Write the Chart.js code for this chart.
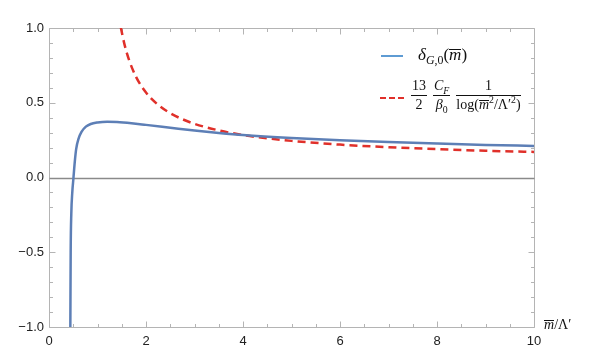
<!DOCTYPE html>
<html lang="en">
<head>
<meta charset="UTF-8">
<title>delta G,0</title>
<script src="https://cdn.jsdelivr.net/npm/chart.js@4/dist/chart.umd.min.js"></script>
<style>
  body { margin:0; background:#fff; }
  #wrap { position:relative; width:599px; height:356px; }
  .tex { position:absolute; font-family:"Liberation Serif","DejaVu Serif",serif; color:#111; white-space:nowrap; line-height:1; }
  .frac { display:inline-flex; flex-direction:column; align-items:center; vertical-align:middle; margin-right:6px; }
  .frac .num { border-bottom:1px solid #111; padding:0 1px 2px 1px; text-align:center; align-self:stretch; }
  .frac .den { padding-top:2px; }
  .ol { display:inline-block; border-top:1px solid #111; line-height:0.62em; }
  sub, sup { font-size:70%; line-height:0; }
  .sw { position:absolute; height:2px; }
</style>
</head>
<body>
<div id="wrap">
  <canvas id="myChart" width="599" height="356"></canvas>

  <div class="sw" style="left:381px; top:55px; width:22px; background:#5e9bd3;"></div>
  <div class="tex" style="left:418px; top:46px; font-size:17px;"><i>δ</i><sub><i>G</i>,0</sub>(<i class="ol">m</i>)</div>

  <div class="sw" style="left:380px; top:97px; width:24px; background:repeating-linear-gradient(to right,#e0302a 0 6px,transparent 6px 9px);"></div>
  <div class="tex" style="left:411px; top:79px; font-size:14px;">
    <span class="frac"><span class="num">13</span><span class="den">2</span></span><span class="frac"><span class="num"><i>C</i><sub><i>F</i></sub></span><span class="den"><i>β</i><sub>0</sub></span></span><span class="frac"><span class="num">1</span><span class="den">log(<i class="ol">m</i><sup>2</sup>/Λ′<sup>2</sup>)</span></span>
  </div>

  <div class="tex" style="left:544px; top:318px; font-size:14px;"><i class="ol">m</i>/Λ′</div>
</div>
<script>
  // blue curve
  var blueX = [0.44, 0.447, 0.46, 0.48, 0.505, 0.53, 0.56, 0.61, 0.67, 0.76, 0.86, 1.0, 1.2, 1.4, 1.7, 2.0, 2.5, 3.0, 3.5, 4.0, 5.0, 6.0, 7.0, 8.0, 9.0, 10.0];
  var blueY = [-1.0, -0.5, -0.24, -0.1, 0.0, 0.1, 0.19, 0.26, 0.305, 0.34, 0.358, 0.368, 0.373, 0.371, 0.363, 0.352, 0.333, 0.314, 0.298, 0.284, 0.264, 0.249, 0.237, 0.227, 0.218, 0.211];

  // red dashed curve
  var redX = [1.48, 1.55, 1.65, 1.8, 2.0, 2.25, 2.5, 2.75, 3.0, 3.5, 4.0, 4.5, 5.0, 6.0, 7.0, 8.0, 9.0, 10.0];
  var redY = [1.005, 0.899, 0.787, 0.670, 0.568, 0.486, 0.430, 0.390, 0.359, 0.315, 0.284, 0.262, 0.245, 0.220, 0.203, 0.190, 0.179, 0.171];

  var xTicks = [0, 2, 4, 6, 8, 10];
  var yTicks = [-1.0, -0.5, 0.0, 0.5, 1.0];

  function pts(xs, ys) {
    return xs.map(function (v, i) { return { x: v, y: ys[i] }; });
  }

  // frame with inward ticks, plus the zero line (Mathematica style)
  var frame = {
    id: 'frame',
    beforeDatasetsDraw: function (chart) {
      var ctx = chart.ctx, a = chart.chartArea, sx = chart.scales.x, sy = chart.scales.y;
      var L = Math.round(a.left) + 0.5, R = Math.round(a.right) + 0.5;
      var T = Math.round(a.top) + 0.5, B = Math.round(a.bottom) + 0.5;
      ctx.save();
      ctx.lineWidth = 1;
      ctx.strokeStyle = '#b4b4b4';
      ctx.beginPath();
      ctx.moveTo(L, T); ctx.lineTo(R, T); ctx.lineTo(R, B); ctx.lineTo(L, B); ctx.closePath();
      ctx.stroke();

      ctx.beginPath();
      for (var v = 0; v <= 10.001; v += 0.5) {
        var px = Math.round(sx.getPixelForValue(v)) + 0.5;
        var len = (Math.abs(v % 2) < 1e-6) ? 6 : 3.5;
        ctx.moveTo(px, B); ctx.lineTo(px, B - len);
        ctx.moveTo(px, T); ctx.lineTo(px, T + len);
      }
      for (var k = -10; k <= 10; k++) {
        var py = Math.round(sy.getPixelForValue(k / 10)) + 0.5;
        var l2 = (k % 5 === 0) ? 6 : 3.5;
        ctx.moveTo(L, py); ctx.lineTo(L + l2, py);
        ctx.moveTo(R, py); ctx.lineTo(R - l2, py);
      }
      ctx.stroke();

      var y0 = Math.round(sy.getPixelForValue(0)) + 0.5;
      ctx.strokeStyle = '#8a8a8a';
      ctx.lineWidth = 1.5;
      ctx.beginPath();
      ctx.moveTo(L, y0); ctx.lineTo(R, y0);
      ctx.stroke();
      ctx.restore();
    }
  };

  var ctx = document.getElementById('myChart').getContext('2d');
  var chart = new Chart(ctx, {
    type: 'line',
    data: {
      datasets: [{
        label: 'delta',
        data: pts(blueX, blueY),
        borderColor: '#5d7fb6',
        borderWidth: 2.5,
        pointRadius: 0,
        cubicInterpolationMode: 'monotone',
        fill: false
      }, {
        label: 'asym',
        data: pts(redX, redY),
        borderColor: '#e0302a',
        borderWidth: 2.5,
        borderDash: [8, 5],
        pointRadius: 0,
        cubicInterpolationMode: 'monotone',
        fill: false
      }]
    },
    options: {
      responsive: false,
      animation: false,
      layout: { padding: { top: 28, right: 65, left: 0, bottom: 0 } },
      plugins: { legend: { display: false }, tooltip: { enabled: false } },
      scales: {
        x: {
          type: 'linear', min: 0, max: 10,
          afterFit: function (s) { s.height = 29; },
          afterBuildTicks: function (s) { s.ticks = xTicks.map(function (v) { return { value: v }; }); },
          grid: { display: false, drawTicks: false },
          border: { display: false },
          ticks: { padding: 7, color: '#222', font: { family: 'Liberation Sans', size: 13 }, maxRotation: 0,
                   callback: function (v) { return String(v); } }
        },
        y: {
          type: 'linear', min: -1, max: 1,
          afterFit: function (s) { s.width = 49; },
          afterBuildTicks: function (s) { s.ticks = yTicks.map(function (v) { return { value: v }; }); },
          grid: { display: false, drawTicks: false },
          border: { display: false },
          ticks: { padding: 5, color: '#222', font: { family: 'Liberation Sans', size: 13 },
                   callback: function (v) { return v.toFixed(1).replace('-', '\u2212'); } }
        }
      }
    },
    plugins: [frame]
  });
</script>
</body>
</html>
